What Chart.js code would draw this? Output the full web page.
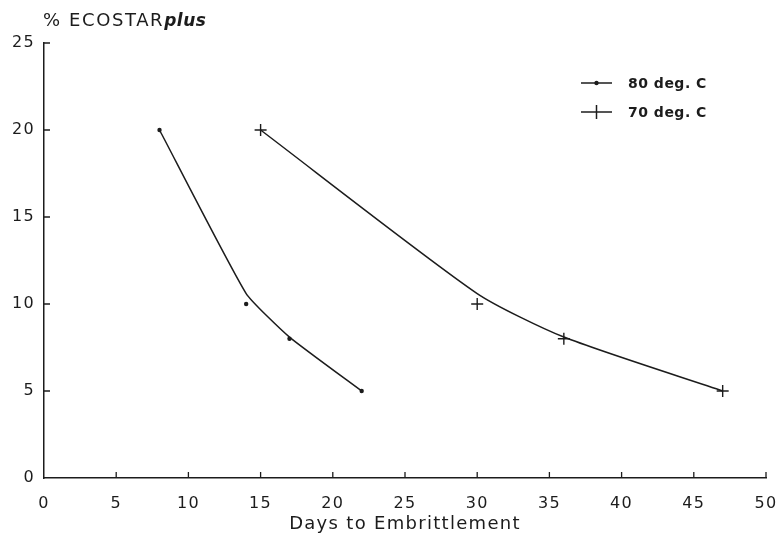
<!DOCTYPE html>
<html><head><meta charset="utf-8">
<script src="https://cdn.jsdelivr.net/npm/chart.js@4"></script>
<style>html,body{margin:0;padding:0;background:#fff}#wrap{width:777px;height:535px;position:relative}canvas{display:block}</style>
</head><body><div id="wrap"><canvas id="c" width="777" height="535"></canvas></div>
<script>
// ---- data ----
const xTickValues = [0, 5, 10, 15, 20, 25, 30, 35, 40, 45, 50];
const yTickValues = [0, 5, 10, 15, 20, 25];
const seriesNames = ['80 deg. C', '70 deg. C'];
const days80 = [8, 14, 17, 22];
const pct80 = [20, 10, 8, 5];
const days70 = [15, 30, 36, 47];
const pct70 = [20, 10, 8, 5];
// hand-drawn fitted curves
const fitDays80 = [8, 14, 17, 22];
const fitPct80 = [20, 10.6, 8.1, 5];
const fitDays70 = [15, 30, 36, 47];
const fitPct70 = [20, 10.6, 8.1, 5];
const yTitleMain = '% ECOSTAR';
const yTitleItalic = 'plus';
const xTitle = 'Days to Embrittlement';

const INK = '#1c1c1c';
const FONT = '"DejaVu Sans", Verdana, sans-serif';
const toXY = (xs, ys) => xs.map((x, i) => ({x: x, y: ys[i]}));

const inwardTicks = {
  id: 'inwardTicks',
  beforeDraw(chart) { chart.ctx.letterSpacing = '1.3px'; },
  afterDraw(chart) {
    const ctx = chart.ctx, xs = chart.scales.x, ys = chart.scales.y;
    const a = chart.chartArea;
    ctx.save();
    ctx.strokeStyle = INK; ctx.lineWidth = 1.3;
    ctx.beginPath();
    yTickValues.forEach(v => { if (v > 0) { const p = ys.getPixelForValue(v); ctx.moveTo(a.left, p); ctx.lineTo(a.left + 6, p); } });
    xTickValues.forEach(v => { if (v > 0) { const p = xs.getPixelForValue(v); ctx.moveTo(p, a.bottom); ctx.lineTo(p, a.bottom - 6); } });
    ctx.stroke();
    // y title
    ctx.fillStyle = INK; ctx.textBaseline = 'middle'; ctx.textAlign = 'left';
    ctx.letterSpacing = '1.6px';
    ctx.font = '18px ' + FONT;
    ctx.fillText(yTitleMain, 43, 21);
    const w = ctx.measureText(yTitleMain).width;
    ctx.font = 'italic bold 17px ' + FONT;
    ctx.letterSpacing = '0.5px';
    ctx.fillText(yTitleItalic, 43 + w, 22);
    // legend
    const lx0 = 581, lx1 = 612, tx = 628, rows = [83, 112];
    ctx.font = 'bold 14px ' + FONT;
    ctx.letterSpacing = '0.5px';
    rows.forEach((ry, i) => {
      ctx.beginPath(); ctx.lineWidth = 1.5; ctx.moveTo(lx0, ry); ctx.lineTo(lx1, ry); ctx.stroke();
      const cx = (lx0 + lx1) / 2;
      if (i === 0) { ctx.beginPath(); ctx.arc(cx, ry, 2.2, 0, Math.PI * 2); ctx.fill(); }
      else { ctx.beginPath(); ctx.moveTo(cx, ry - 7); ctx.lineTo(cx, ry + 7); ctx.stroke(); }
      ctx.fillText(seriesNames[i], tx, ry + 1);
    });
    ctx.restore();
  }
};

Chart.defaults.font.family = FONT;
Chart.defaults.color = INK;

new Chart(document.getElementById('c'), {
  type: 'scatter',
  data: {
    datasets: [
      {label: seriesNames[0] + ' fit', data: toXY(fitDays80, fitPct80), showLine: true, tension: 0.15,
       borderColor: INK, borderWidth: 1.5, pointRadius: 0, fill: false},
      {label: seriesNames[0], data: toXY(days80, pct80), showLine: false, pointStyle: 'circle',
       pointRadius: 2.2, pointBackgroundColor: INK, pointBorderColor: INK, pointBorderWidth: 0},
      {label: seriesNames[1] + ' fit', data: toXY(fitDays70, fitPct70), showLine: true, tension: 0.22,
       borderColor: INK, borderWidth: 1.5, pointRadius: 0, fill: false},
      {label: seriesNames[1], data: toXY(days70, pct70), showLine: false, pointStyle: 'cross',
       pointRadius: 6, pointBorderColor: INK, pointBorderWidth: 1.4}
    ]
  },
  options: {
    responsive: false, animation: false, devicePixelRatio: 1,
    layout: {padding: {top: 43, right: 11, left: 0, bottom: 0}},
    plugins: {legend: {display: false}, tooltip: {enabled: false}, title: {display: false}},
    scales: {
      x: {
        type: 'linear', min: 0, max: 50,
        afterBuildTicks: s => { s.ticks = xTickValues.map(v => ({value: v})); },
        afterFit: s => { s.height = 57; s.paddingLeft = 0; s.paddingRight = 0; },
        grid: {display: true, drawOnChartArea: false, drawTicks: false},
        border: {display: true, color: INK, width: 1.5},
        ticks: {font: {size: 16}, padding: 16, maxRotation: 0, autoSkip: false},
        title: {display: true, text: xTitle, font: {size: 18}, padding: {top: 0, bottom: 0}}
      },
      y: {
        type: 'linear', min: 0, max: 25,
        afterBuildTicks: s => { s.ticks = yTickValues.map(v => ({value: v})); },
        afterFit: s => { s.width = 44; s.paddingTop = 0; s.paddingBottom = 0; },
        grid: {display: true, drawOnChartArea: false, drawTicks: false},
        border: {display: true, color: INK, width: 1.5},
        ticks: {font: {size: 16}, padding: 9, autoSkip: false}
      }
    }
  },
  plugins: [inwardTicks]
});
</script></body></html>
